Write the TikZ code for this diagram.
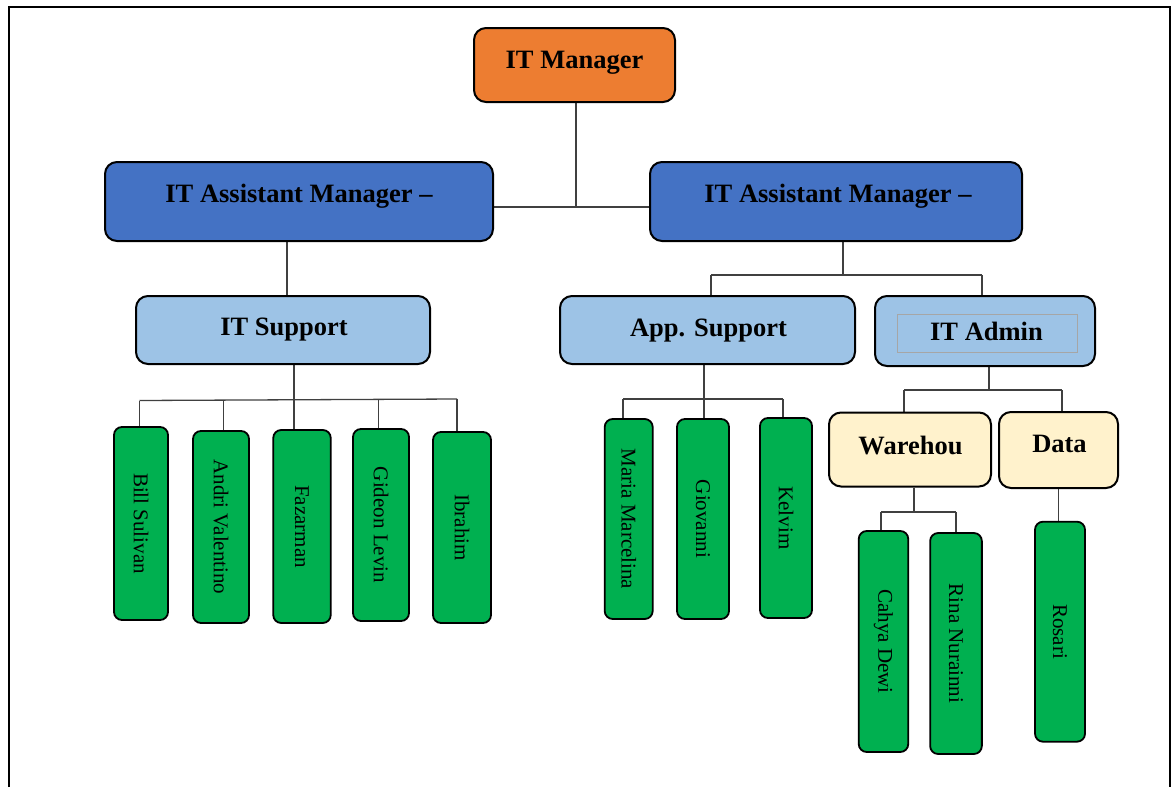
\documentclass[tikz,border=0pt]{standalone}
\usepackage{fontspec}
\setmainfont{Liberation Serif}
\definecolor{orng}{HTML}{ED7D31}
\definecolor{blu}{HTML}{4472C4}
\definecolor{lblu}{HTML}{9DC3E6}
\definecolor{crm}{HTML}{FFF2CC}
\definecolor{grn}{HTML}{00B050}
\definecolor{cgray}{HTML}{404040}
\pgfdeclarelayer{background}
\pgfsetlayers{background,main}
\begin{document}
\begin{tikzpicture}[x=1pt,y=-1pt,
  box/.style={draw=black, line width=2pt, rounded corners=12pt, inner sep=0pt},
  gbox/.style={draw=black, line width=1.8pt, rounded corners=8pt, fill=grn, inner sep=0pt},
  conn/.style={draw=cgray, line width=1.3pt},
  ttl/.style={font=\fontsize{26.5}{30}\selectfont\bfseries, anchor=base, inner sep=0pt},
  nm/.style={font=\fontsize{21}{24}\selectfont, rotate=-90, inner sep=0pt}]
\useasboundingbox (0,0) rectangle (1175,787);
% frame
\draw[line width=2.5pt] (9,787) -- (9,7) -- (1170,7) -- (1170,787);

% level 0 / 1
\node[box, fill=orng, minimum width=201pt, minimum height=74pt] (mgr) at (574.5,65) {};
\node[ttl] (tmgr) at (574.5,68) {IT Manager};
\node[box, fill=blu, minimum width=388pt, minimum height=79pt] (am1) at (299,201.5) {};
\node[ttl] (tam1) at (299,202) {IT Assistant Manager –};
\node[box, fill=blu, minimum width=372pt, minimum height=79pt] (am2) at (836,201.5) {};
\node[ttl] (tam2) at (838,202) {IT Assistant Manager –};

% level 2
\node[box, fill=lblu, minimum width=294pt, minimum height=68pt] (its) at (283,330) {};
\node[ttl] (tits) at (284,335) {IT Support};
\node[box, fill=lblu, minimum width=295pt, minimum height=68pt] (aps) at (707.5,330) {};
\node[ttl] (taps) at (708.5,336) {App. Support};
\node[box, fill=lblu, minimum width=220pt, minimum height=70pt] (ita) at (985,331) {};
\node[draw=gray!70, line width=0.6pt, minimum width=180pt, minimum height=38pt, inner sep=0pt] (itain) at (987,333) {};
\node[ttl] (tita) at (986.5,340) {IT Admin};

% level 3
\node[box, fill=crm, minimum width=162pt, minimum height=74pt] (wh) at (910,449.5) {};
\node[ttl] (twh) at (910.5,454) {Warehou};
\node[box, fill=crm, minimum width=119pt, minimum height=76pt] (dt) at (1058.5,450) {};
\node[ttl] (tdt) at (1059.5,452) {Data};

% people
\node[gbox, minimum width=54pt, minimum height=193pt] (bill) at (141,523.5) {};
\node[nm] at (bill) {Bill Sulivan};
\node[gbox, minimum width=56pt, minimum height=192pt] (andri) at (221,527) {};
\node[nm] at (andri) {Andri Valentino};
\node[gbox, minimum width=57.5pt, minimum height=193pt] (faz) at (302,526.5) {};
\node[nm] at (faz) {Fazarman};
\node[gbox, minimum width=56pt, minimum height=192pt] (gid) at (381,525) {};
\node[nm] at (gid) {Gideon Levin};
\node[gbox, minimum width=58pt, minimum height=191pt] (ibr) at (462,527.5) {};
\node[nm] at (ibr) {Ibrahim};

\node[gbox, minimum width=48pt, minimum height=200pt] (maria) at (628.7,519) {};
\node[nm] at (maria) {Maria Marcelina};
\node[gbox, minimum width=52pt, minimum height=200pt] (gio) at (703,519) {};
\node[nm] at (gio) {Giovanni};
\node[gbox, minimum width=52pt, minimum height=200pt] (kel) at (786,518) {};
\node[nm] at (kel) {Kelvim};

\node[gbox, minimum width=49.5pt, minimum height=221pt] (cahya) at (883.5,641.5) {};
\node[nm] at (cahya) {Cahya Dewi};
\node[gbox, minimum width=51.7pt, minimum height=221pt] (rina) at (956,643.5) {};
\node[nm] at (rina) {Rina Nurainni};
\node[gbox, minimum width=50pt, minimum height=220pt] (rosari) at (1060,631.7) {};
\node[nm] at (rosari) {Rosari};

% connectors
\begin{pgfonlayer}{background}
\coordinate (j0) at (576,207);
\draw[conn] (mgr.south -| j0) -- (j0);
\draw[conn] (am1.east |- j0) -- (am2.west |- j0);
\coordinate (j1) at (287,241);
\draw[conn] (am1.south -| j1) -- (its.north -| j1);

\coordinate (r0) at (843,275);
\coordinate (rL) at (711,275);
\coordinate (rR) at (982,275);
\draw[conn] (am2.south -| r0) -- (r0);
\draw[conn] (rL) -- (rR);
\draw[conn] (rL) -- (rL |- aps.north);
\draw[conn] (rR) -- (rR |- ita.north);

\coordinate (s0) at (294,400);
\coordinate (sL) at (139.5,400.5);
\coordinate (sA) at (223.5,400);
\coordinate (sG) at (378.6,399.5);
\coordinate (sR) at (457,399);
\draw[conn] (its.south -| s0) -- (faz.north -| s0);
\draw[conn] (sL) -- (sR);
\draw[conn] (sL) -- (sL |- bill.north);
\draw[conn] (sA) -- (sA |- andri.north);
\draw[conn] (sG) -- (sG |- gid.north);
\draw[conn] (sR) -- (sR |- ibr.north);

\coordinate (a0) at (704,399);
\coordinate (aL) at (623,399);
\coordinate (aR) at (783,399);
\draw[conn] (aps.south -| a0) -- (gio.north -| a0);
\draw[conn] (aL) -- (aR);
\draw[conn] (aL) -- (aL |- maria.north);
\draw[conn] (aR) -- (aR |- kel.north);

\coordinate (d0) at (989,390);
\coordinate (dL) at (904,390);
\coordinate (dR) at (1062,390);
\draw[conn] (ita.south -| d0) -- (d0);
\draw[conn] (dL) -- (dR);
\draw[conn] (dL) -- (dL |- wh.north);
\draw[conn] (dR) -- (dR |- dt.north);

\coordinate (w0) at (914,512);
\coordinate (wL) at (881,512);
\coordinate (wR) at (956,512);
\draw[conn] (wh.south -| w0) -- (w0);
\draw[conn] (wL) -- (wR);
\draw[conn] (wL) -- (wL |- cahya.north);
\draw[conn] (wR) -- (wR |- rina.north);

\draw[conn] (dt.south) -- (dt.south |- rosari.north);
\end{pgfonlayer}
\end{tikzpicture}
\end{document}
